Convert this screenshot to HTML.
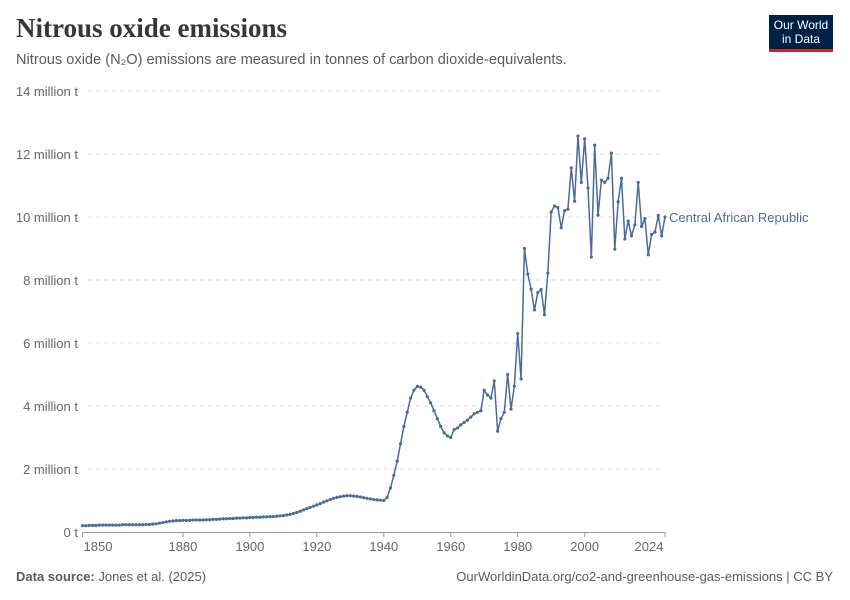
<!DOCTYPE html>
<html><head><meta charset="utf-8"><style>
body{margin:0;background:#fff;font-family:"Liberation Sans",sans-serif;}
#wrap{position:relative;width:850px;height:600px;overflow:hidden;}
.t{position:absolute;white-space:nowrap;}
</style></head><body>
<div id="wrap">
<div class="t" style="left:16px;top:13px;font-family:'Liberation Serif',serif;font-weight:bold;font-size:27px;color:#373737;">Nitrous oxide emissions</div>
<div class="t" style="left:16px;top:52px;font-size:14.6px;color:#5b5b5b;">Nitrous oxide (N₂O) emissions are measured in tonnes of carbon dioxide-equivalents.</div>
<div style="position:absolute;left:769px;top:15px;width:64px;height:37px;background:#002147;color:#fff;font-size:12px;line-height:14px;text-align:center;box-sizing:border-box;padding-top:3px;border-bottom:3px solid #ce261e;">Our World<br>in Data</div>
<svg id="chart" width="850" height="600" style="position:absolute;left:0;top:0;"></svg>
<div class="t" style="left:16px;top:569px;font-size:13px;color:#5b5b5b;"><b>Data source:</b> Jones et al. (2025)</div>
<div class="t" style="right:17px;top:569px;font-size:13px;color:#5b5b5b;">OurWorldinData.org/co2-and-greenhouse-gas-emissions | CC BY</div>
</div>
<script>
const startYear = 1850;
const values = [
0.20,0.20,0.21,0.21,0.21,0.22,0.22,0.22,0.22,0.22,0.22,0.22,0.23,0.23,0.23,0.23,0.23,0.23,0.23,0.24,
0.24,0.25,0.26,0.28,0.30,0.32,0.34,0.35,0.36,0.36,
0.37,0.37,0.37,0.38,0.38,0.38,0.38,0.39,0.39,0.40,
0.40,0.41,0.42,0.42,0.43,0.43,0.44,0.44,0.45,0.45,
0.46,0.46,0.47,0.47,0.48,0.48,0.49,0.49,0.50,0.51,
0.52,0.54,0.56,0.59,0.62,0.66,0.70,0.74,0.78,0.82,
0.86,0.90,0.95,0.99,1.03,1.07,1.10,1.12,1.14,1.15,
1.15,1.14,1.13,1.11,1.09,1.07,1.05,1.03,1.02,1.01,
1.00,1.1,1.4,1.8,2.25,2.8,3.35,3.8,4.25,4.5,
4.62,4.6,4.5,4.3,4.1,3.85,3.6,3.35,3.15,3.05,
3.0,3.25,3.3,3.4,3.48,3.55,3.65,3.75,3.8,3.85,
4.5,4.35,4.25,4.8,3.2,3.6,3.8,5.0,3.9,4.63,
6.3,4.86,9.0,8.19,7.71,7.05,7.6,7.7,6.9,8.22,
10.16,10.35,10.3,9.66,10.2,10.25,11.56,10.5,12.57,11.1,
12.48,10.92,8.73,12.28,10.06,11.17,11.1,11.23,12.03,8.98,
10.48,11.23,9.3,9.87,9.4,9.75,11.1,9.7,9.95,8.8,
9.45,9.52,10.05,9.4,10.0];
const yTicks = [0,2,4,6,8,10,12,14];
const yTickLabels = ["0 t","2 million t","4 million t","6 million t","8 million t","10 million t","12 million t","14 million t"];
const xTicks = [1850,1880,1900,1920,1940,1960,1980,2000,2024];
const seriesName = "Central African Republic";

const svg = document.getElementById('chart');
const NS = 'http://www.w3.org/2000/svg';
const x = yr => 82.5 + (yr - 1850) * (665 - 82.5) / 174;
const y = v => 532 - v * (532 - 91) / 14;
function mk(tag, attrs){const e=document.createElementNS(NS,tag);for(const k in attrs)e.setAttribute(k,attrs[k]);svg.appendChild(e);return e;}

yTicks.forEach((t,i)=>{
  if(t>0){
    const g=mk('line',{x1:88,x2:664,y1:y(t),y2:y(t),stroke:'#dddddd','stroke-dasharray':'4,4'});
    
    
  }
  const l=mk('text',{x:78,y:y(t)+5,'text-anchor':'end','font-size':13,fill:'#666','font-family':'Liberation Sans, sans-serif'});
  l.textContent=yTickLabels[i];
  
  
});
const ax=mk('line',{x1:82,x2:665,y1:532.5,y2:532.5,stroke:'#999'});


xTicks.forEach((t,i)=>{
  const tk=mk('line',{x1:x(t),x2:x(t),y1:532,y2:537,stroke:'#999'});
  
  
  let lx=x(t); if(i===0) lx=98; if(i===xTicks.length-1) lx=649;
  const l=mk('text',{x:lx,y:551,'text-anchor':'middle','font-size':13,fill:'#666','font-family':'Liberation Sans, sans-serif'});
  l.textContent=t;
  
  
});
const pts=values.map((v,i)=>x(startYear+i).toFixed(2)+','+y(v).toFixed(2)).join(' ');
const line=mk('polyline',{points:pts,fill:'none',stroke:'#4c6a9c','stroke-width':1.5,'stroke-linejoin':'round'});


values.forEach((v,i)=>{
  const c=mk('circle',{cx:x(startYear+i),cy:y(v),r:1.6,fill:'#4c6a9c'});
  
  
});
const last=values[values.length-1];
const lab=mk('text',{x:669,y:y(last)+5,'font-size':13,fill:'#4c6a9c','font-family':'Liberation Sans, sans-serif'});
lab.textContent=seriesName;


</script>
</body></html>
